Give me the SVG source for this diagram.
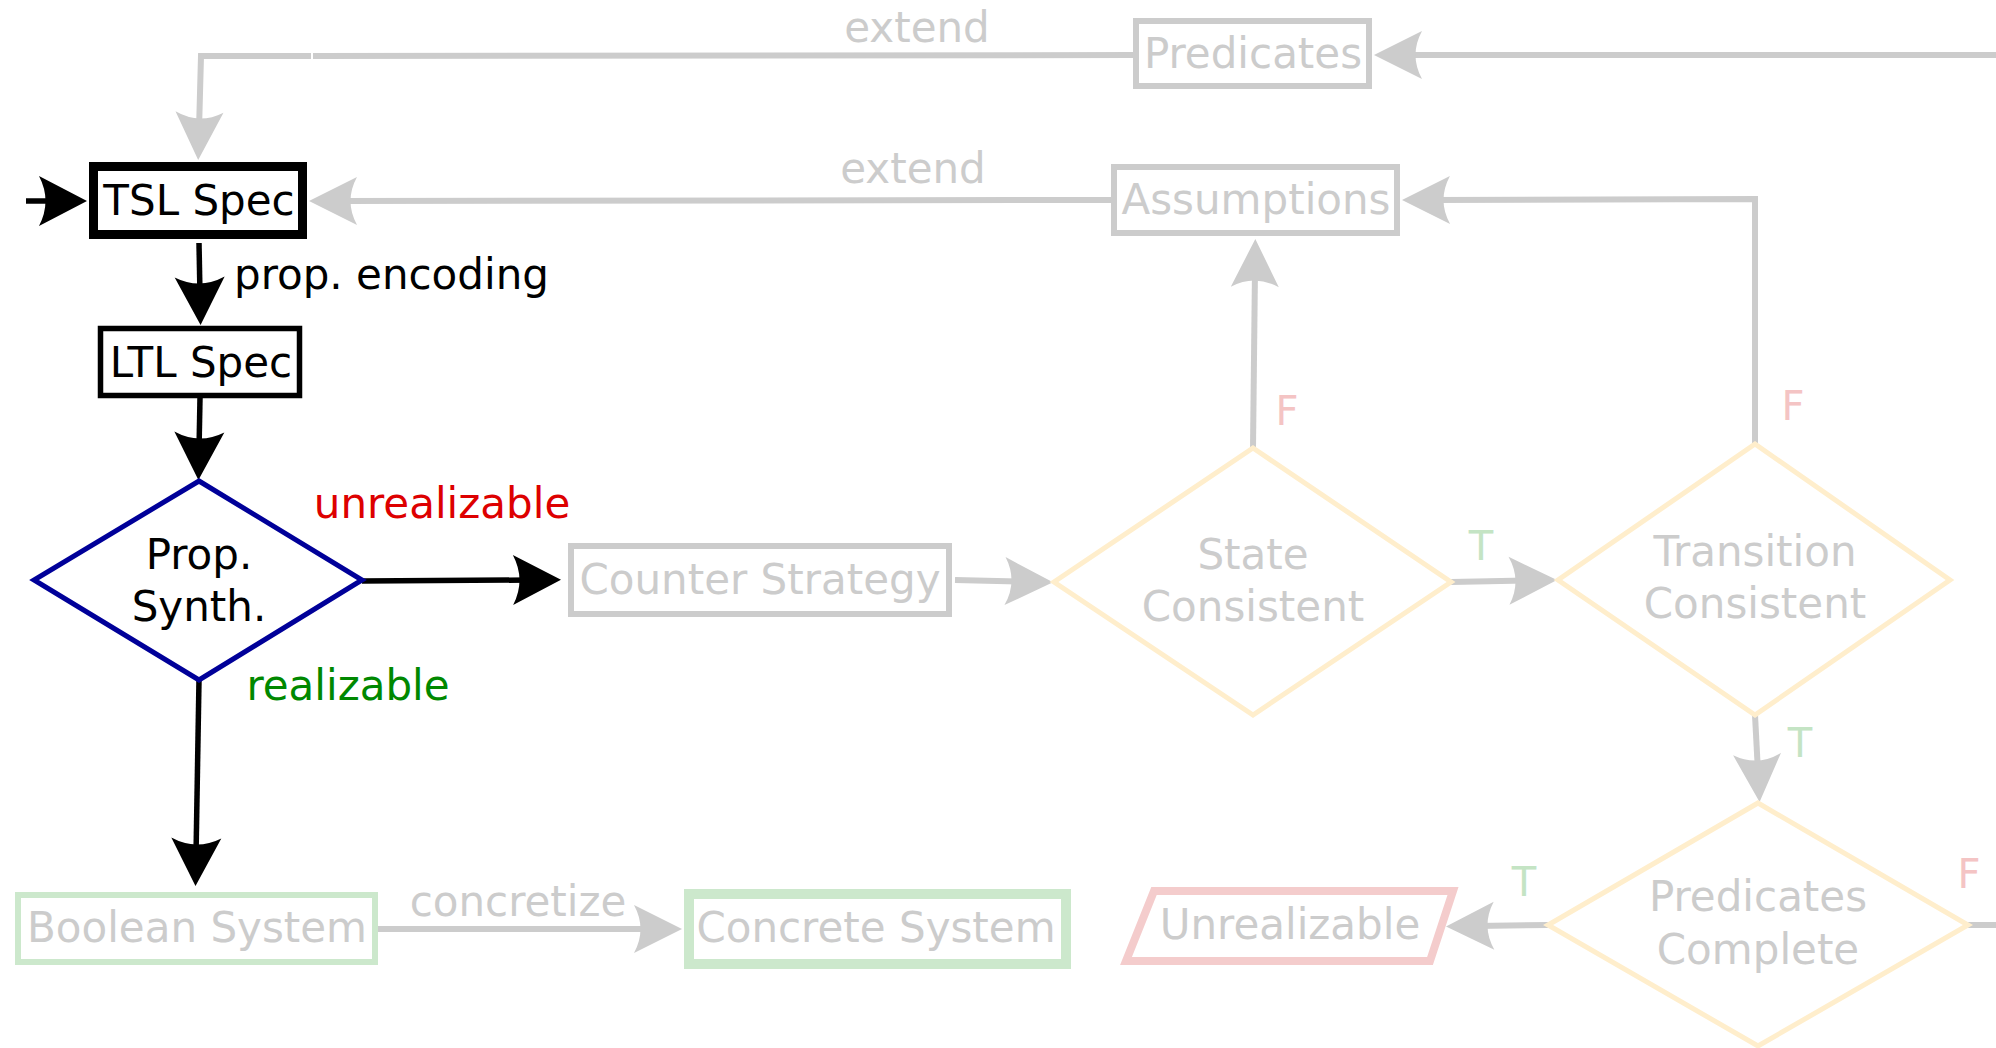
<svg xmlns="http://www.w3.org/2000/svg" width="1996" height="1048" viewBox="0 0 1996 1048">
<style>
text{font-family:"DejaVu Sans","Liberation Sans",sans-serif;font-size:42px;text-anchor:middle}
.g{fill:#cccccc}
.k{fill:#000000}
.ln{fill:none}
.lk{stroke:#000000;stroke-width:5.5}
.lg{stroke:#cccccc;stroke-width:6}
.box{fill:#ffffff}
.tl{fill:#c4e4c4;font-size:40px}
.fl{fill:#f4c4c4;font-size:40px}
</style>
<defs>
<marker id="ak" markerUnits="userSpaceOnUse" orient="auto" refX="-30" refY="0" markerWidth="60" markerHeight="60" overflow="visible">
<path d="M0,0 L-48,-25 Q-35,0 -48,25 Z" fill="#000000"/>
</marker>
<marker id="ag" markerUnits="userSpaceOnUse" orient="auto" refX="-30" refY="0" markerWidth="60" markerHeight="60" overflow="visible">
<path d="M0,0 L-48,-24 Q-35,0 -48,24 Z" fill="#cccccc"/>
</marker>
</defs>
<rect width="1996" height="1048" fill="#ffffff"/>
<g id="connectors">
<path class="ln lk" d="M26,201 L57,201" marker-end="url(#ak)"/>
<path class="ln lk" d="M199,243 L200,295" marker-end="url(#ak)"/>
<path class="ln lk" d="M200,398 L199,450" marker-end="url(#ak)"/>
<path class="ln lk" d="M362,581 L531,580" marker-end="url(#ak)"/>
<path class="ln lk" d="M199,680 L196,856" marker-end="url(#ak)"/>
<path class="ln lg" d="M955,580 L1023,581.5" marker-end="url(#ag)"/>
<path class="ln lg" d="M1451,582 L1527,580.5" marker-end="url(#ag)"/>
<path class="ln lg" d="M1253,448 L1255,269" marker-end="url(#ag)"/>
<path class="ln lg" d="M1755,444 L1755,199 L1432,200" marker-end="url(#ag)"/>
<path class="ln lg" d="M1755,715 L1758,772" marker-end="url(#ag)"/>
<path class="ln lg" d="M1548,925 L1476,926" marker-end="url(#ag)"/>
<path class="ln lg" d="M1968,925 L1996,925"/>
<path class="ln lg" d="M1996,55 L1404,55" marker-end="url(#ag)"/>
<path class="ln lg" d="M1133,55 L313,56"/>
<path class="ln lg" d="M311,56 L201,56 L199,130" marker-end="url(#ag)"/>
<path class="ln lg" d="M1111,200 L339,201" marker-end="url(#ag)"/>
<path class="ln lg" d="M378,929 L652,929" marker-end="url(#ag)"/>
<text class="g" x="917" y="42">extend</text>
<text class="g" x="913" y="183">extend</text>
<text class="k" x="234" y="289" style="text-anchor:start">prop. encoding</text>
<text x="442" y="518" fill="#dd0000">unrealizable</text>
<text x="348" y="700" fill="#008800">realizable</text>
<text class="g" x="518" y="916">concretize</text>
<text class="tl" x="1481" y="560">T</text>
<text class="fl" x="1287" y="425">F</text>
<text class="fl" x="1793" y="420">F</text>
<text class="tl" x="1800" y="757">T</text>
<text class="tl" x="1524" y="896">T</text>
<text class="fl" x="1969" y="888">F</text>
</g>
<g id="tsl-spec">
<rect class="box" x="93.5" y="166.5" width="209" height="68" stroke="#000000" stroke-width="9"/>
<text class="k" x="199" y="215">TSL Spec</text>
</g>
<g id="ltl-spec">
<rect class="box" x="100.5" y="328.5" width="199" height="67" stroke="#000000" stroke-width="5.5"/>
<text class="k" x="201" y="377">LTL Spec</text>
</g>
<g id="prop-synth">
<polygon class="box" points="199,481 362,580 199,680 34,580" stroke="#000099" stroke-width="5"/>
<text class="k" x="199" y="569">Prop.</text>
<text class="k" x="199" y="621">Synth.</text>
</g>
<g id="counter-strategy">
<rect class="box" x="571" y="546" width="378" height="68" stroke="#cccccc" stroke-width="6"/>
<text class="g" x="760" y="594">Counter Strategy</text>
</g>
<g id="state-consistent">
<polygon class="box" points="1253,448 1451,582 1253,715 1054,582" stroke="#ffeecc" stroke-width="5"/>
<text class="g" x="1253" y="569">State</text>
<text class="g" x="1253" y="621">Consistent</text>
</g>
<g id="transition-consistent">
<polygon class="box" points="1755,444 1950,580 1755,715 1558,580" stroke="#ffeecc" stroke-width="5"/>
<text class="g" x="1755" y="566">Transition</text>
<text class="g" x="1755" y="618">Consistent</text>
</g>
<g id="predicates-complete">
<polygon class="box" points="1758,803 1968,925 1758,1046 1548,925" stroke="#ffeecc" stroke-width="5"/>
<text class="g" x="1758" y="911">Predicates</text>
<text class="g" x="1758" y="964">Complete</text>
</g>
<g id="assumptions">
<rect class="box" x="1114" y="167" width="283" height="66" stroke="#cccccc" stroke-width="6"/>
<text class="g" x="1256" y="214">Assumptions</text>
</g>
<g id="predicates">
<rect class="box" x="1136" y="21" width="233" height="65" stroke="#cccccc" stroke-width="6"/>
<text class="g" x="1253" y="68">Predicates</text>
</g>
<g id="boolean-system">
<rect class="box" x="18" y="895" width="357" height="67" stroke="#cce8cc" stroke-width="6"/>
<text class="g" x="197" y="942">Boolean System</text>
</g>
<g id="concrete-system">
<rect class="box" x="689" y="894" width="377" height="70" stroke="#cce8cc" stroke-width="10"/>
<text class="g" x="876" y="942">Concrete System</text>
</g>
<g id="unrealizable">
<polygon class="box" points="1154,891 1453,891 1430,961 1126,961" stroke="#f4cccc" stroke-width="8"/>
<text class="g" x="1290" y="939">Unrealizable</text>
</g>
</svg>
